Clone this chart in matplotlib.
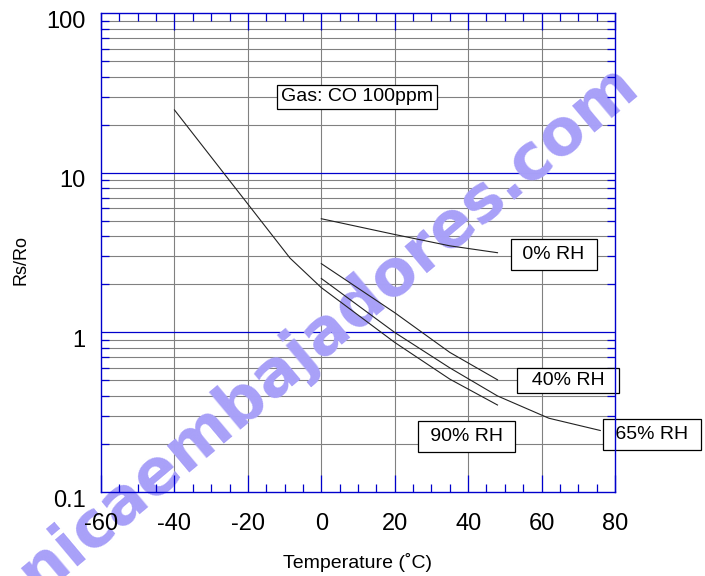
import matplotlib
matplotlib.use('Agg')
import matplotlib.pyplot as plt
import matplotlib.transforms as mtransforms
from matplotlib.ticker import FixedLocator, NullFormatter

plt.rcParams['font.family'] = ['Liberation Sans', 'DejaVu Sans']

# 数据
temp_0 = [0, 20, 35, 48]
rs_0 = [5.16, 4.11, 3.49, 3.16]

temp_40 = [0, 20, 35, 48]
rs_40 = [2.70, 1.33, 0.75, 0.505]

temp_65 = [0, 20, 35, 48, 62, 76]
rs_65 = [2.18, 1.0, 0.60, 0.40, 0.29, 0.243]

temp_90 = [-40, -8.5, 0, 20, 35, 48]
rs_90 = [24.8, 2.92, 1.91, 0.866, 0.51, 0.351]

x_major = [-60, -40, -20, 0, 20, 40, 60, 80]
x_minor = list(range(-60, 81, 5))
y_major = [0.1, 1, 10, 100]
y_major_labels = ['0.1', '1', '10', '100']
y_minor = [m * d for d in (0.1, 1, 10) for m in range(2, 10)]

blue = '#0000CC'
grey = '#808080'

fig = plt.figure(figsize=(7.05, 5.76), dpi=100)
ax = fig.add_axes([0.1433, 0.1458, 0.729, 0.8311])
ax.set_yscale('log')
ax.set_xlim(-60, 80)
ax.set_ylim(0.1, 100)

# 网格线
for x in x_major[1:-1]:
    ax.axvline(x, color=grey, lw=0.8, zorder=0.5)
for y in y_minor:
    ax.axhline(y, color=grey, lw=0.8, zorder=0.5)
for y in y_major[1:-1]:
    ax.axhline(y, color=blue, lw=0.9, zorder=0.6)

# 曲线
for t, r in [(temp_0, rs_0), (temp_40, rs_40), (temp_65, rs_65), (temp_90, rs_90)]:
    ax.plot(t, r, color='#222222', lw=0.8, zorder=2)

# 刻度
ax.xaxis.set_major_locator(FixedLocator(x_major))
ax.xaxis.set_minor_locator(FixedLocator(x_minor))
ax.yaxis.set_major_locator(FixedLocator(y_major))
ax.yaxis.set_minor_locator(FixedLocator(y_minor))
ax.yaxis.set_minor_formatter(NullFormatter())
ax.set_xticklabels([str(v) for v in x_major])
ax.set_yticklabels(y_major_labels)

ax.tick_params(axis='x', which='major', direction='in', length=12, width=0.9,
               color=blue, top=True, labelsize=17, pad=15)
ax.tick_params(axis='x', which='minor', direction='in', length=6, width=0.9,
               color=blue, top=True)
ax.tick_params(axis='y', which='major', direction='in', length=0,
               right=True, labelsize=17, pad=11)
ax.tick_params(axis='y', which='minor', direction='in', length=6, width=0.9,
               color=blue, right=True)

offset = mtransforms.ScaledTranslation(0, -6 / 100, fig.dpi_scale_trans)
for lab in ax.get_yticklabels():
    lab.set_transform(lab.get_transform() + offset)

for s in ax.spines.values():
    s.set_color(blue)
    s.set_linewidth(1.0)

# 水印
ax.text(0.465, 0.43, 'nicaembajadores.com', transform=fig.transFigure,
        rotation=40, rotation_mode='anchor', ha='center', va='center',
        fontsize=46, fontweight='bold', family='DejaVu Sans',
        color='#a8a0f8', zorder=1, clip_on=False)

# 标签
box = dict(boxstyle='square,pad=0.35', fc='white', ec='black', lw=0.9)
ax.text(9.65, 29.9, 'Gas: CO 100ppm', fontsize=14, ha='center', va='center',
        bbox=dict(boxstyle='square,pad=0.2', fc='white', ec='black', lw=0.9), zorder=2.2)
ax.text(63.3, 3.07, ' 0% RH ', fontsize=14, ha='center', va='center', bbox=box, zorder=2.2)
ax.text(67.2, 0.498, '  40% RH  ', fontsize=14, ha='center', va='center',
        bbox=dict(boxstyle='square,pad=0.2', fc='white', ec='black', lw=0.9), zorder=2.2)
ax.text(39.6, 0.222, ' 90% RH ', fontsize=14, ha='center', va='center', bbox=box,
        zorder=2.2)
ax.text(90.1, 0.229, ' 65% RH ', fontsize=14, ha='center', va='center', bbox=box,
        zorder=2.2, clip_on=False)

fig.text(358 / 705, 1 - 563 / 576, 'Temperature (˚C)', fontsize=14, ha='center', va='center')
fig.text(21 / 705, 1 - 260 / 576, 'Rs/Ro', fontsize=13, rotation=90, ha='center', va='center')

fig.savefig('out.png', dpi=100)
